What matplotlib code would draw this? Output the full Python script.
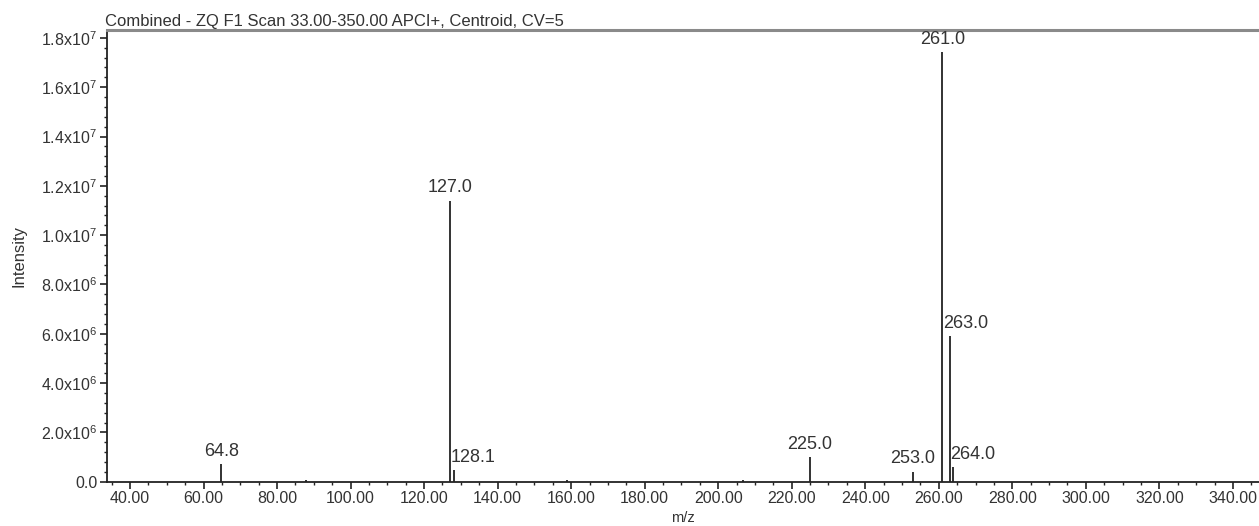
import matplotlib
matplotlib.use("Agg")
import matplotlib.pyplot as plt
from matplotlib.ticker import MultipleLocator, FixedLocator

plt.rcParams['font.family'] = ['Liberation Sans', 'DejaVu Sans']

# Centroided peaks (m/z, intensity)
mz = [64.8, 87.8, 127.0, 128.1, 158.9, 206.7, 225.0, 253.0, 261.0, 263.0, 264.0]
intensity = [0.71e6, 0.06e6, 11.4e6, 0.47e6, 0.07e6, 0.08e6, 1.01e6, 0.41e6, 17.44e6, 5.91e6, 0.58e6]

# Labelled peaks: value, text offset (points), horizontal alignment
label_mz = [64.8, 127.0, 128.1, 225.0, 253.0, 261.0, 263.0, 264.0]
label_dx = [0, 0, -2.5, 0, 0, 0, -5.0, -2.5]
label_ha = ['center', 'center', 'left', 'center', 'center', 'center', 'left', 'left']

y_ticks = [0, 2e6, 4e6, 6e6, 8e6, 10e6, 12e6, 14e6, 16e6, 18e6]
y_labels = ['0.0', '2.0x10^6', '4.0x10^6', '6.0x10^6', '8.0x10^6',
            '1.0x10^7', '1.2x10^7', '1.4x10^7', '1.6x10^7', '1.8x10^7']
x_ticks = [40, 60, 80, 100, 120, 140, 160, 180, 200, 220, 240, 260, 280, 300, 320, 340]

title = 'Combined - ZQ F1 Scan 33.00-350.00 APCI+, Centroid, CV=5'

W, H = 1259, 526
fig = plt.figure(figsize=(W / 100, H / 100), dpi=100)
ax = fig.add_axes([107 / W, 1 - 481.7 / H, 1 - 107 / W, (481.7 - 30) / H])

ax.vlines(mz, 0, intensity, color='#222222', linewidth=1.3)

for m, dx, ha in zip(label_mz, label_dx, label_ha):
    h = intensity[mz.index(m)]
    ax.annotate(f'{m:.1f}', xy=(m, h), xytext=(dx, 3), textcoords='offset points',
                ha=ha, va='bottom', fontsize=13, color='#333333')

ax.set_xlim(33.75, 347.1)
ax.set_ylim(0, 18.32e6)

ax.xaxis.set_major_locator(FixedLocator(x_ticks))
ax.xaxis.set_minor_locator(MultipleLocator(5))
ax.set_xticklabels([f'{t:.2f}' for t in x_ticks])
ax.yaxis.set_major_locator(FixedLocator(y_ticks))
ax.yaxis.set_minor_locator(MultipleLocator(0.4e6))


def fmt(lbl):
    if '^' in lbl:
        base, exp = lbl.split('^')
        return r'$\mathregular{' + base + '^{' + exp + '}}$'
    return lbl


ax.set_yticklabels([fmt(l) for l in y_labels])

ax.tick_params(axis='both', which='major', direction='out', length=5, width=1.2,
               color='#222222', labelsize=11.5, labelcolor='#333333', pad=2)
ax.tick_params(axis='both', which='minor', direction='out', length=2.5, width=1.0,
               color='#222222')

for s in ('left', 'bottom'):
    ax.spines[s].set_color('#222222')
    ax.spines[s].set_linewidth(1.3)
ax.spines['right'].set_visible(False)
ax.spines['top'].set_color('#8a8a8a')
ax.spines['top'].set_linewidth(2.2)

ax.set_xlabel('m/z', fontsize=10.5, color='#333333', va='bottom')
ax.xaxis.set_label_coords(0.5, (481.7 - 524.5) / (481.7 - 30))
ax.set_ylabel('Intensity', fontsize=12, color='#333333', va='center')
ax.yaxis.set_label_coords((19 - 107) / (W - 107), 0.5)
ax.set_title(title, fontsize=12, color='#333333', loc='left', x=-0.002, pad=3)

fig.savefig('out.png', dpi=100, facecolor='white')
